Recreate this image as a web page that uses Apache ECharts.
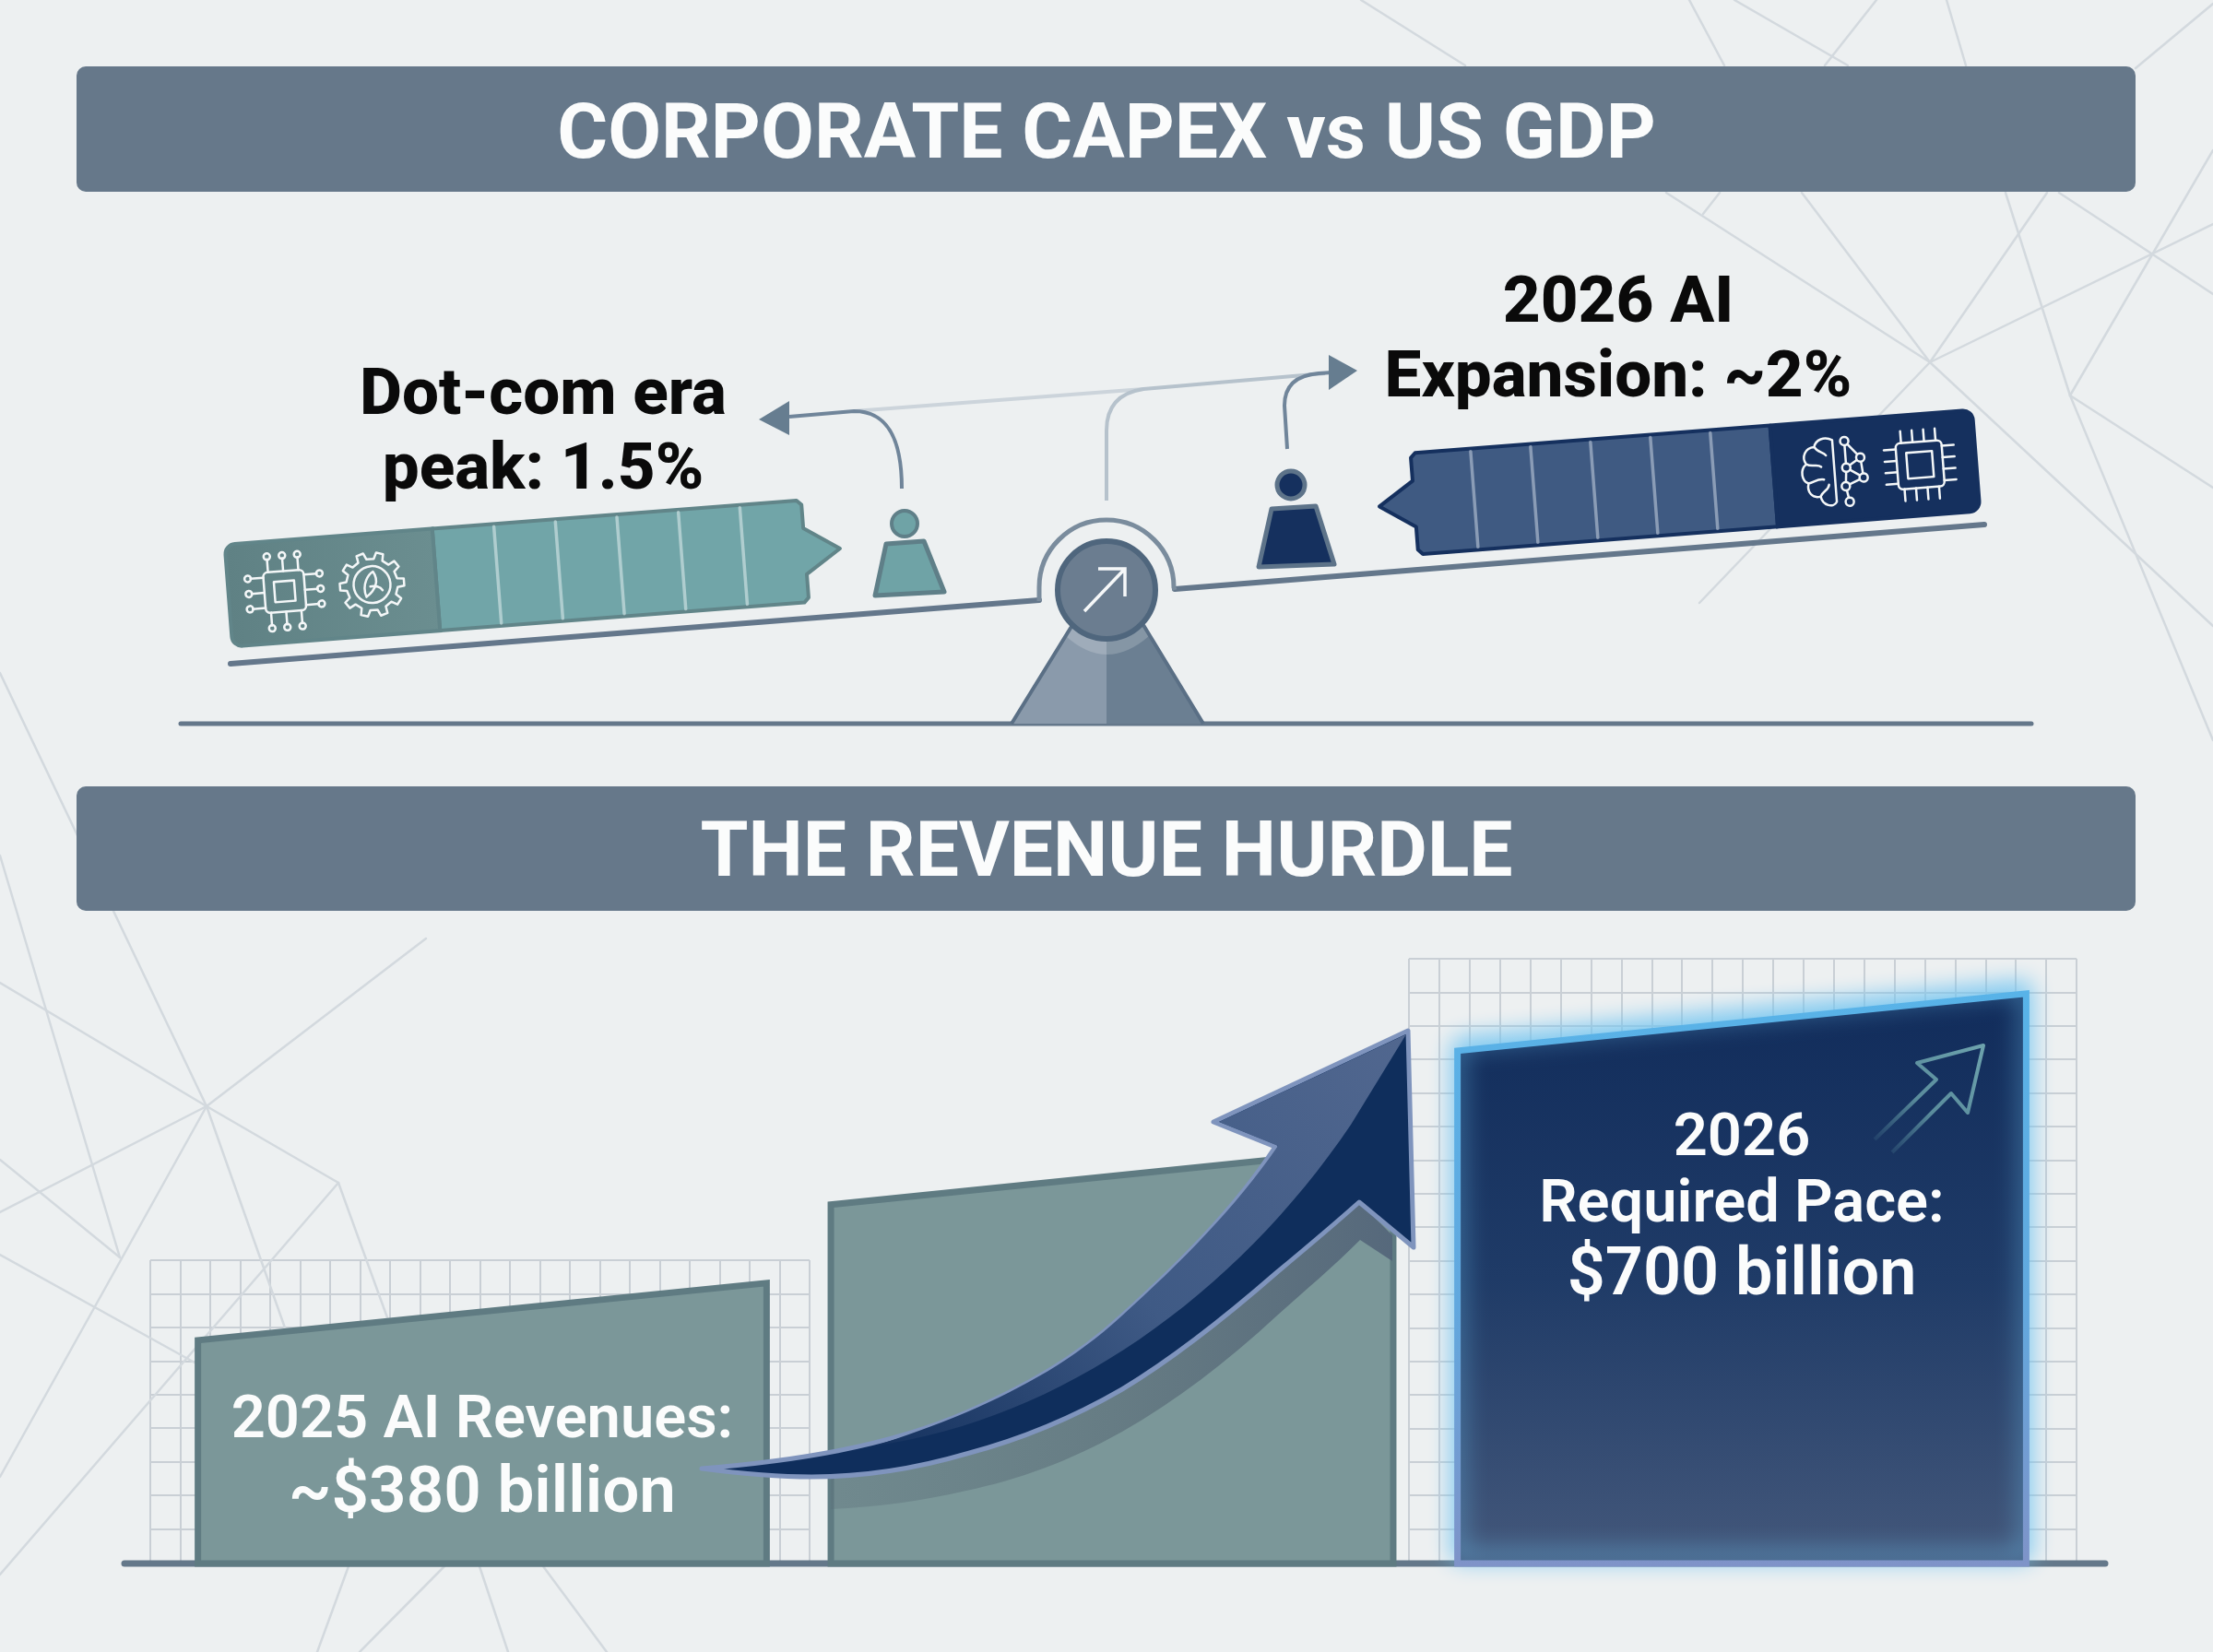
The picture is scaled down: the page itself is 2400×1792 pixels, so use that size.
<!DOCTYPE html>
<html>
<head>
<meta charset="utf-8">
<title>Corporate capex vs US GDP</title>
<style>
html,body{margin:0;padding:0;background:#edf0f1;}
#main{width:2400px;height:1792px;}
</style>
<script src="https://cdn.jsdelivr.net/npm/echarts@6/dist/echarts.min.js"></script>
</head>
<body>
<div id="main"></div>
<script>
// chart values
var headers = ['CORPORATE CAPEX vs US GDP', 'THE REVENUE HURDLE'];
var capexCaptions = ['Dot-com era\npeak: 1.5%', '2026 AI\nExpansion: ~2%'];
var capexShare = [1.5, 2];
var revenueCategories = ['2025', '', '2026'];
var revenueValues = [380, 530, 700];
var revenueLabels = [
    ['2025 AI Revenues:', '~$380 billion'],
    [],
    ['2026', 'Required Pace:', '$700 billion']
];

var FONT = 'Roboto';
var G = echarts.graphic;
var TILT = 0.077;

function vgrad(stops) {
    return new G.LinearGradient(0, 0, 0, 1, stops);
}
function hgrad(stops) {
    return new G.LinearGradient(0, 0, 1, 0, stops);
}
function seg(a, b, c, d, color, w) {
    return {type: 'line', shape: {x1: a, y1: b, x2: c, y2: d}, style: {stroke: color, lineWidth: w, lineCap: 'round', fill: null}};
}
function pathEl(d, style) {
    return {type: 'path', shape: {pathData: d}, style: style};
}
function poly(points, style) {
    return {type: 'polygon', shape: {points: points}, style: style};
}
function circle(cx, cy, r, style) {
    return {type: 'circle', shape: {cx: cx, cy: cy, r: r}, style: style};
}
function outline(w) {
    return {fill: null, stroke: '#f4f7f8', lineWidth: w || 2.5, lineJoin: 'round', lineCap: 'round'};
}

// line icons that sit on the dark end of the two pans
function chipIcon(cx, cy, half, inner, reach, pins, dots) {
    var st = outline(2.5);
    var out = [
        {type: 'rect', shape: {x: cx - half, y: cy - half, width: half * 2, height: half * 2, r: 5}, style: st},
        {type: 'rect', shape: {x: cx - inner, y: cy - inner, width: inner * 2, height: inner * 2}, style: st}
    ];
    for (var i = 0; i < pins; i++) {
        var t = (i - (pins - 1) / 2) * (half * 1.5 / Math.max(pins - 1, 1));
        out.push(seg(cx - half, cy + t, cx - reach, cy + t, '#f4f7f8', 2.5));
        out.push(seg(cx + half, cy + t, cx + reach, cy + t, '#f4f7f8', 2.5));
        out.push(seg(cx + t, cy - half, cx + t, cy - reach, '#f4f7f8', 2.5));
        out.push(seg(cx + t, cy + half, cx + t, cy + reach, '#f4f7f8', 2.5));
        if (dots) {
            out.push(circle(cx - reach - 3, cy + t, 3.5, st));
            out.push(circle(cx + reach + 3, cy + t, 3.5, st));
            out.push(circle(cx + t, cy - reach - 3, 3.5, st));
            out.push(circle(cx + t, cy + reach + 3, 3.5, st));
        }
    }
    return out;
}

function gearIcon(cx, cy) {
    var pts = [];
    var teeth = 10;
    for (var i = 0; i < teeth; i++) {
        var a = i / teeth * Math.PI * 2;
        var da = Math.PI / teeth;
        [[-0.55, 28], [-0.35, 35], [0.35, 35], [0.55, 28]].forEach(function (p) {
            pts.push([cx + p[1] * Math.cos(a + p[0] * da), cy + p[1] * Math.sin(a + p[0] * da)]);
        });
    }
    return [
        poly(pts, outline(2.5)),
        circle(cx, cy, 20, outline(2.5)),
        pathEl('M' + (cx - 7) + ',' + (cy + 13) + ' C' + (cx - 12) + ',' + (cy - 2) + ' ' + (cx - 2) + ',' + (cy - 12) + ' ' + (cx + 2) + ',' + (cy - 14)
            + ' C' + (cx + 8) + ',' + (cy - 4) + ' ' + (cx + 4) + ',' + (cy + 6) + ' ' + (cx - 7) + ',' + (cy + 13)
            + ' M' + (cx - 2) + ',' + (cy + 2) + ' C' + (cx + 3) + ',' + (cy + 1) + ' ' + (cx + 9) + ',' + (cy + 3) + ' ' + (cx + 11) + ',' + (cy + 7), outline(2.5))
    ];
}

function brainIcon(cx, cy) {
    function P(x, y) {
        return (cx + x) + ',' + (cy + y);
    }
    var st = outline(2.5);
    var nodes = [[13, -32], [29, -13], [13, -3], [31, 9], [11, 17], [14, 34]];
    var links = [[0, 1], [1, 2], [0, 2], [2, 3], [3, 4], [2, 4], [4, 5], [1, 3]];
    var out = [
        pathEl('M' + P(0, -34) + ' C' + P(-8, -39) + ' ' + P(-18, -36) + ' ' + P(-20, -28)
            + ' C' + P(-30, -28) + ' ' + P(-35, -18) + ' ' + P(-30, -10)
            + ' C' + P(-38, -4) + ' ' + P(-36, 8) + ' ' + P(-29, 11)
            + ' C' + P(-32, 20) + ' ' + P(-26, 28) + ' ' + P(-17, 26)
            + ' C' + P(-16, 36) + ' ' + P(-4, 40) + ' ' + P(0, 33) + ' L' + P(0, -34)
            + ' M' + P(-20, -28) + ' C' + P(-17, -22) + ' ' + P(-11, -22) + ' ' + P(-8, -18)
            + ' M' + P(-30, -10) + ' C' + P(-24, -6) + ' ' + P(-18, -10) + ' ' + P(-14, -6)
            + ' M' + P(-29, 11) + ' C' + P(-23, 10) + ' ' + P(-18, 6) + ' ' + P(-12, 8)
            + ' M' + P(-17, 26) + ' C' + P(-14, 20) + ' ' + P(-8, 20) + ' ' + P(-7, 14), st)
    ];
    links.forEach(function (l) {
        out.push(seg(cx + nodes[l[0]][0], cy + nodes[l[0]][1], cx + nodes[l[1]][0], cy + nodes[l[1]][1], '#f4f7f8', 2.5));
    });
    nodes.forEach(function (n) {
        out.push(circle(cx + n[0], cy + n[1], 4.5, {fill: '#15305e', stroke: '#f4f7f8', lineWidth: 2.5}));
    });
    return out;
}

// one tilted pan: length comes from the value through the pan's own x axis
var panLook = [
    {light: '#71a5a8', dark: ['#5f8184', '#6b8e90'], edge: '#618589', tick: 'rgba(226,238,238,.55)', radius: [11, 0, 0, 11]},
    {light: '#3f5a82', dark: ['#15305e', '#15305e'], edge: '#15305e', tick: 'rgba(214,222,234,.5)', radius: [0, 11, 11, 0]}
];
function renderPan(params, api) {
    var look = panLook[params.seriesIndex - 1];
    var from = api.coord([0, 0]);
    var to = api.coord([api.value(0), 0]);
    var h = api.size([0, 1])[1];
    var cy = from[1];
    var dir = to[0] > from[0] ? 1 : -1;
    var len = Math.abs(to[0] - from[0]);
    var split = from[0] + dir * len * 0.36;
    var kids = [];

    kids.push(poly([
        [split, cy - h / 2], [to[0] - dir * 5, cy - h / 2], [to[0], cy - h / 2 + 5], [to[0], cy - 25],
        [to[0] + dir * 38, cy], [to[0], cy + 25], [to[0], cy + h / 2 - 5], [to[0] - dir * 5, cy + h / 2], [split, cy + h / 2]
    ], {fill: look.light, stroke: look.edge, lineWidth: 4, lineJoin: 'round'}));
    for (var i = 1; i < 6; i++) {
        var x = split + (to[0] - split) * i / 6;
        kids.push(seg(x, cy - h / 2 + 3, x, cy + h / 2 - 3, look.tick, 3.5));
    }
    var left = Math.min(from[0], split);
    kids.push({
        type: 'rect',
        shape: {x: left, y: cy - h / 2, width: len * 0.36, height: h, r: look.radius},
        style: {fill: hgrad([{offset: 0, color: look.dark[0]}, {offset: 1, color: look.dark[1]}]), stroke: look.edge, lineWidth: 4}
    });
    if (dir > 0) {
        kids = kids.concat(chipIcon(from[0] + 61, cy, 22, 11, 36, 3, true), gearIcon(from[0] + 156, cy));
    } else {
        kids = kids.concat(chipIcon(from[0] - 61, cy, 25, 14, 38, 4, false), brainIcon(from[0] - 154, cy));
    }
    var midX = (from[0] + to[0]) / 2;
    return {type: 'group', originX: midX, originY: cy, rotation: TILT, children: kids};
}

// revenue columns: the value sets the higher right corner, the top edge falls to the left
var SLANT = 62;
var columnLook = [
    {fill: '#7b9799', stroke: '#5f7b82', width: 7, share: 0.903},
    {fill: '#7b9799', stroke: '#5f7b82', width: 7, share: 0.893},
    {
        fill: vgrad([{offset: 0, color: '#112c5b'}, {offset: 0.5, color: '#1f3b67'}, {offset: 1, color: '#44587b'}]),
        stroke: vgrad([{offset: 0, color: '#58b3e8'}, {offset: 0.55, color: '#62a8de'}, {offset: 1, color: '#7f93c8'}]),
        width: 7, share: 0.903, glow: '#6ec3f0'
    }
];
var labelOffsets = [[151, 230], [], [159, 231, 308]];
var labelSizes = [[65, 71], [], [65, 65, 72]];
function renderColumn(params, api) {
    var i = params.dataIndex;
    var top = api.coord([api.value(0), api.value(1)]);
    var base = api.coord([api.value(0), 70]);
    var look = columnLook[i];
    var w = api.size([1, 0])[0] * look.share;
    var kids = [poly([
        [top[0] - w / 2, base[1]], [top[0] - w / 2, top[1] + SLANT], [top[0] + w / 2, top[1]], [top[0] + w / 2, base[1]]
    ], {
        fill: look.fill, stroke: look.stroke, lineWidth: look.width,
        shadowBlur: look.glow ? 26 : 0, shadowOffsetY: look.glow ? -8 : 0, shadowColor: look.glow || 'transparent'
    })];
    revenueLabels[i].forEach(function (txt, k) {
        kids.push({
            type: 'text',
            style: {
                text: txt, x: top[0], y: top[1] + labelOffsets[i][k], align: 'center', verticalAlign: 'middle',
                fill: '#fbfcfc', fontFamily: FONT, fontWeight: 600, fontSize: labelSizes[i][k]
            }
        });
    });
    return {type: 'group', children: kids};
}

// pale network lines behind everything, the two banners and the two floor lines
var webLines = [
    [1476, 0, 1589, 71],
    [1832, 0, 1870, 71], [1881, 0, 2004, 71], [2035, 0, 1979, 71], [2111, 0, 2132, 71], [2400, 4, 2316, 74],
    [1807, 209, 2093, 393], [1865, 209, 1847, 232], [1954, 209, 2093, 393], [2220, 209, 2093, 393], [2400, 243, 2093, 393],
    [2093, 393, 1843, 654], [2093, 393, 2400, 679], [2175, 209, 2245, 429], [2245, 429, 2400, 803], [2233, 209, 2400, 319],
    [2400, 163, 2245, 429], [2245, 429, 2400, 529],
    [0, 730, 224, 1200], [0, 928, 130, 1364], [0, 1066, 224, 1200], [462, 1018, 224, 1200], [0, 1315, 224, 1200],
    [224, 1200, 367, 1283], [224, 1200, 311, 1446], [224, 1200, 0, 1602], [0, 1258, 130, 1364], [0, 1361, 211, 1478],
    [367, 1283, 0, 1708], [367, 1283, 421, 1432],
    [378, 1699, 344, 1792], [482, 1699, 390, 1792], [520, 1699, 551, 1792], [589, 1699, 658, 1792]
];
function renderBackdrop() {
    var kids = webLines.map(function (l) {
        return seg(l[0], l[1], l[2], l[3], '#d3d9de', 2.5);
    });
    [[72, 136], [853, 135]].forEach(function (b) {
        kids.push({type: 'rect', shape: {x: 83, y: b[0], width: 2233, height: b[1], r: 10}, style: {fill: '#66788a'}});
    });
    kids.push(seg(196, 785, 2203, 785, '#64778a', 5));
    kids.push(seg(135, 1696, 2283, 1696, '#64788a', 7));
    return {type: 'group', children: kids};
}

// seesaw: beam, hub, stand, two figures and the bent connectors
function renderSeesaw() {
    var grey = '#70859a';
    var kids = [
        pathEl('M926,446 L1240,422', {fill: null, stroke: '#ccd4db', lineWidth: 4}),
        pathEl('M1200,543 L1200,467 Q1200,428 1240,422 L1437,405', {fill: null, stroke: '#b6c2cc', lineWidth: 4}),
        pathEl('M978,530 C978,480 965,446 926,446 L856,452', {fill: null, stroke: grey, lineWidth: 4}),
        poly([[823, 455], [856, 435], [856, 472]], {fill: '#667d90'}),
        pathEl('M1396,487 L1393,440 Q1393,408 1430,405 L1445,404', {fill: null, stroke: grey, lineWidth: 4}),
        poly([[1472, 402], [1441, 385], [1441, 423]], {fill: '#667d90'}),

        seg(250, 720, 1127, 651, '#64778b', 6),
        seg(1274, 639, 2152, 569, '#64778b', 6),
        pathEl('M1127,652 L1127,637 A73,73 0 0 1 1273,637 L1274,640', {fill: null, stroke: '#7a8c9d', lineWidth: 5}),

        poly([[1163, 678], [1200, 678], [1200, 785], [1097, 785]], {fill: '#8a9aab'}),
        poly([[1200, 678], [1240, 678], [1305, 785], [1200, 785]], {fill: '#6b7f92'}),
        pathEl('M1156,690 Q1200,730 1246,690 L1240,678 L1163,678 Z', {fill: 'rgba(255,255,255,.18)'}),
        pathEl('M1163,678 L1097,785 M1240,678 L1305,785', {fill: null, stroke: '#5a6f85', lineWidth: 4}),

        circle(1200, 640, 53, {fill: '#6b7d90', stroke: '#4f667d', lineWidth: 6}),
        pathEl('M1176,663 L1220,617 M1191,617 L1220,617 L1220,647', {fill: null, stroke: '#f6f8f9', lineWidth: 3.5, lineJoin: 'miter'}),

        circle(981, 568, 14, {fill: '#6fa3a6', stroke: '#5f7f88', lineWidth: 4}),
        poly([[961, 590], [1002, 587], [1024, 642], [949, 646]], {fill: '#6fa3a6', stroke: '#5f7f88', lineWidth: 5, lineJoin: 'round'}),
        circle(1400, 526, 15, {fill: '#15305e', stroke: '#5d7389', lineWidth: 5}),
        poly([[1379, 552], [1427, 549], [1447, 612], [1365, 615]], {fill: '#15305e', stroke: '#5d7389', lineWidth: 5, lineJoin: 'round'})
    ];
    return {type: 'group', children: kids};
}

// big arrow that climbs from the first column to the third one, plus the small arrow in the navy column
var ARROW_UP = 'C860,1585 960,1570 1048,1532 C1110,1505 1165,1475 1217,1427 C1280,1370 1340,1310 1383,1244';
var ARROW_LOW = 'C1445,1330 1415,1355 1385,1380 C1330,1428 1275,1472 1217,1507 C1160,1540 1105,1562 1048,1577';
function renderArrow() {
    var fade = new G.LinearGradient(1, 0, 0, 1, [
        {offset: 0, color: '#6ea4ae'}, {offset: 0.55, color: '#5a8c9c'}, {offset: 1, color: 'rgba(80,130,150,0)'}
    ]);
    var kids = [
        pathEl('M901,1602 C950,1600 1000,1590 1048,1577 C1105,1562 1160,1540 1217,1507 C1275,1472 1330,1428 1385,1380 C1415,1355 1445,1330 1474,1304'
            + ' L1510,1340 L1510,1368 L1475,1345 C1445,1375 1415,1400 1385,1427 C1330,1478 1275,1520 1217,1553 C1160,1585 1105,1605 1048,1617 C1000,1628 950,1635 901,1637 Z',
            {fill: hgrad([{offset: 0, color: 'rgba(92,112,122,.35)'}, {offset: 0.5, color: 'rgba(88,106,118,.6)'}, {offset: 1, color: 'rgba(84,102,122,.95)'}])}),
        pathEl('M761,1593 ' + ARROW_UP + ' L1316,1217 L1527,1118 L1533,1353 L1474,1304 ' + ARROW_LOW + ' C990,1594 935,1602 880,1602 C840,1602 800,1598 761,1593 Z',
            {fill: '#0f2e5c', stroke: '#7f94bd', lineWidth: 5, lineJoin: 'round'}),
        pathEl('M1525,1122 L1322,1217 L1386,1243 C1340,1310 1280,1370 1217,1427 C1165,1475 1110,1505 1048,1532 C1010,1548 980,1558 950,1568'
            + ' C1150,1540 1340,1405 1465,1220 Z',
            {fill: new G.LinearGradient(1, 0, 0, 1, [{offset: 0, color: '#51678f'}, {offset: 0.55, color: '#3f5a85'}, {offset: 1, color: '#15325f'}])}),
        pathEl('M2033,1236 L2100,1171 L2079,1153 L2151,1134 L2134,1207 L2116,1186 L2052,1250',
            {fill: null, stroke: fade, lineWidth: 4, lineJoin: 'round'})
    ];
    return {type: 'group', children: kids};
}

function captionTitle(text, x, cy) {
    return {
        text: text, left: x, top: cy - 81, textAlign: 'center', padding: 0,
        textStyle: {color: '#0a0a0a', fontFamily: FONT, fontWeight: 800, fontSize: 71, lineHeight: 81}
    };
}
function headerTitle(text, cy) {
    return {
        text: text, left: 1200, top: cy - 50, textAlign: 'center', padding: 0,
        textStyle: {color: '#fbfcfc', fontFamily: FONT, fontWeight: 700, fontSize: 84, lineHeight: 100}
    };
}
function hiddenValue(idx, min, max, inverse) {
    return {type: 'value', gridIndex: idx, min: min, max: max, inverse: !!inverse, show: false};
}
function cellAxis(idx, max) {
    return {
        type: 'value', gridIndex: idx, min: 0, max: max, interval: 1,
        axisLabel: {show: false}, axisLine: {show: false}, axisTick: {show: false},
        splitLine: {show: true, lineStyle: {color: '#c9cfd5', width: 2}}
    };
}

var chart = echarts.init(document.getElementById('main'));
chart.setOption({
    backgroundColor: '#edf0f1',
    animation: false,
    title: [
        headerTitle(headers[0], 150),
        headerTitle(headers[1], 929),
        captionTitle(capexCaptions[0], 589, 472),
        captionTitle(capexCaptions[1], 1755, 372)
    ],
    grid: [
        {left: 247, top: 566.5, width: 627, height: 111},
        {left: 1533, top: 468, width: 611, height: 110},
        {left: 181.5, top: 1019, width: 2049, height: 677},
        {left: 163, top: 1367, width: 715, height: 328},
        {left: 1528, top: 1040, width: 724, height: 655}
    ],
    xAxis: [
        hiddenValue(0, 0, 1.5),
        hiddenValue(1, 0, 2, true),
        {type: 'category', gridIndex: 2, data: revenueCategories, show: false},
        cellAxis(3, 22),
        cellAxis(4, 22)
    ],
    yAxis: [
        {type: 'category', gridIndex: 0, data: ['share'], show: false},
        {type: 'category', gridIndex: 1, data: ['share'], show: false},
        hiddenValue(2, 70, 760),
        cellAxis(3, 9),
        cellAxis(4, 18)
    ],
    series: [
        {type: 'custom', coordinateSystem: 'none', z: 1, silent: true, data: [0], renderItem: renderBackdrop},
        {type: 'custom', xAxisIndex: 0, yAxisIndex: 0, z: 4, silent: true, data: [[capexShare[0], 0]], renderItem: renderPan},
        {type: 'custom', xAxisIndex: 1, yAxisIndex: 1, z: 4, silent: true, data: [[capexShare[1], 0]], renderItem: renderPan},
        {type: 'custom', coordinateSystem: 'none', z: 3, silent: true, data: [0], renderItem: renderSeesaw},
        {
            type: 'custom', xAxisIndex: 2, yAxisIndex: 2, z: 4, silent: true,
            encode: {x: 0, y: 1},
            data: revenueValues.map(function (v, i) { return [i, v]; }),
            renderItem: renderColumn
        },
        {type: 'custom', coordinateSystem: 'none', z: 5, silent: true, data: [0], renderItem: renderArrow}
    ]
});
</script>
</body>
</html>
